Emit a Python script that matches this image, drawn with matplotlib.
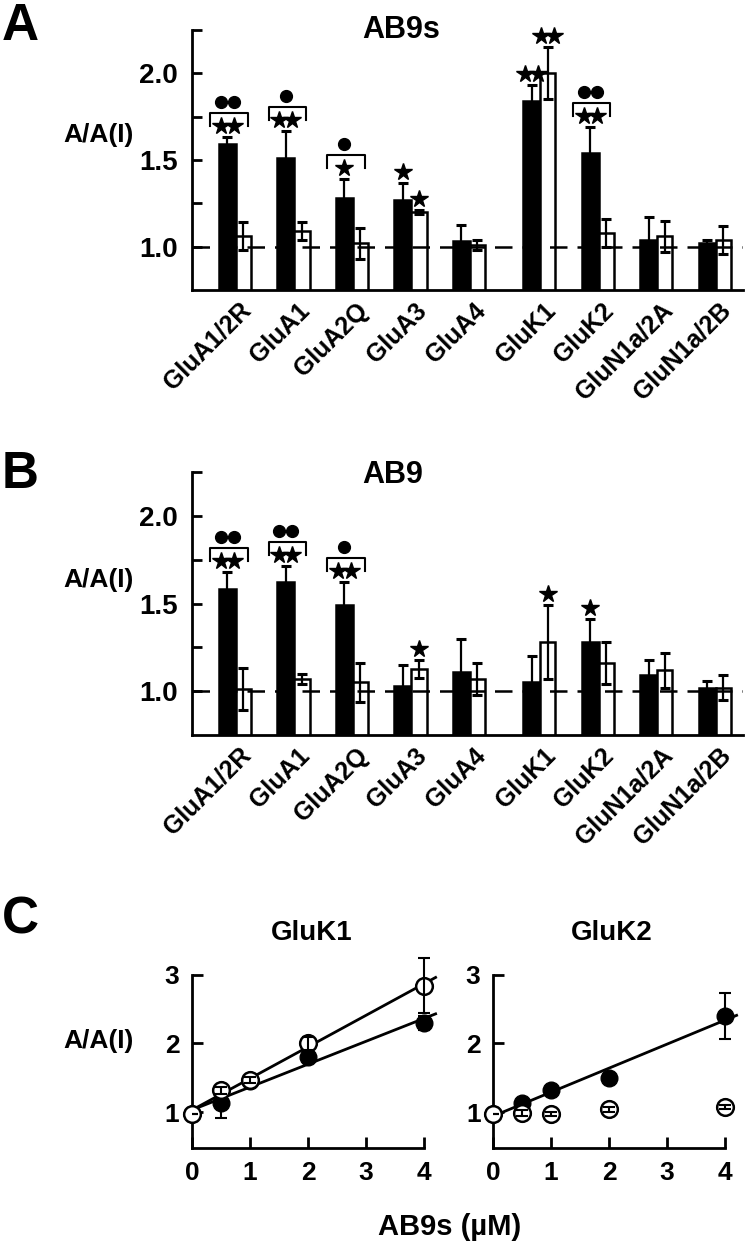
import matplotlib.pyplot as plt
import numpy as np

plt.rcParams['font.family'] = ['Liberation Sans', 'DejaVu Sans']
plt.rcParams['font.weight'] = 'bold'

receptors = ['GluA1/2R', 'GluA1', 'GluA2Q', 'GluA3', 'GluA4',
             'GluK1', 'GluK2', 'GluN1a/2A', 'GluN1a/2B']

# panel A, AB9s
ab9s_black = [1.59, 1.51, 1.28, 1.27, 1.035, 1.84, 1.54, 1.04, 1.02]
ab9s_black_err = [0.04, 0.16, 0.11, 0.10, 0.09, 0.09, 0.15, 0.13, 0.02]
ab9s_white = [1.06, 1.09, 1.02, 1.20, 1.01, 2.00, 1.08, 1.06, 1.04]
ab9s_white_err = [0.08, 0.05, 0.09, 0.01, 0.03, 0.15, 0.08, 0.09, 0.08]
# (group, bar, stars, dots)
ab9s_marks = [(0, 'b', 2, 2), (1, 'b', 2, 1), (2, 'b', 1, 1), (3, 'b', 1, 0),
              (3, 'w', 1, 0), (5, 'b', 2, 0), (5, 'w', 2, 0), (6, 'b', 2, 2)]

# panel B, AB9
ab9_black = [1.58, 1.625, 1.49, 1.03, 1.11, 1.05, 1.28, 1.09, 1.02]
ab9_black_err = [0.10, 0.09, 0.13, 0.12, 0.19, 0.15, 0.13, 0.09, 0.04]
ab9_white = [1.01, 1.07, 1.05, 1.125, 1.07, 1.28, 1.16, 1.12, 1.02]
ab9_white_err = [0.12, 0.03, 0.11, 0.05, 0.09, 0.21, 0.12, 0.10, 0.07]
ab9_marks = [(0, 'b', 2, 2), (1, 'b', 2, 2), (2, 'b', 2, 1),
             (3, 'w', 1, 0), (5, 'w', 1, 0), (6, 'b', 1, 0)]

# panel C, dose response
conc = [0, 0.5, 1, 2, 4]
gluk1_filled = [0.98, 1.13, 1.45, 1.80, 2.30]
gluk1_filled_err = [0, 0.22, 0.05, 0.05, 0.10]
gluk1_open = [0.97, 1.32, 1.47, 2.00, 2.84]
gluk1_open_err = [0, 0.05, 0.04, 0.10, 0.40]
gluk2_filled = [0.98, 1.13, 1.32, 1.50, 2.40]
gluk2_filled_err = [0, 0.05, 0.05, 0.05, 0.34]
gluk2_open = [0.97, 0.99, 0.98, 1.04, 1.07]
gluk2_open_err = [0, 0.04, 0.03, 0.04, 0.03]

positions = np.array([0, 1, 2, 3, 4, 5.2, 6.2, 7.2, 8.2])

W, H = 750, 1245
fig = plt.figure(figsize=(W / 100, H / 100), dpi=100)


def fx(px):
    return px / W


def fy(py):
    return 1 - py / H


def px_units(ax):
    bb = ax.get_window_extent()
    x0, x1 = ax.get_xlim()
    y0, y1 = ax.get_ylim()
    return (x1 - x0) / bb.width, (y1 - y0) / bb.height


def bar_panel(ax, black, black_err, white, white_err, marks):
    bw, ww = 0.29, 0.26
    bx = positions - bw / 2
    wx = positions + ww / 2
    ax.bar(positions, black, width=-bw, align='edge', color='black',
           edgecolor='black', linewidth=1.8, zorder=2)
    ax.bar(positions, white, width=ww, align='edge', color='white',
           edgecolor='black', linewidth=1.8, zorder=2)
    ax.errorbar(bx, black, yerr=black_err, fmt='none', ecolor='black',
                elinewidth=1.6, capsize=3.5, capthick=2.2, zorder=3)
    ax.errorbar(wx, white, yerr=white_err, fmt='none', ecolor='black',
                elinewidth=1.6, capsize=3.5, capthick=2.2, zorder=3)
    ax.axhline(1.0, color='black', lw=1.8, ls=(0, (7, 4)), zorder=4)

    ax.set_xlim(-0.75, 8.67)
    ax.set_ylim(0.75, 2.25)
    for s in ['top', 'right']:
        ax.spines[s].set_visible(False)
    for s in ['left', 'bottom']:
        ax.spines[s].set_linewidth(2)
    ax.set_yticks([1.0, 1.5, 2.0])
    ax.set_yticks([1.25, 1.75, 2.25], minor=True)
    ax.set_yticklabels(['1.0', '1.5', '2.0'])
    ax.tick_params(axis='y', which='both', direction='in', length=7,
                   width=2, labelsize=20, pad=10)
    ax.set_xticks(positions + 0.2)
    ax.set_xticklabels(receptors, rotation=45, ha='right', va='center',
                       rotation_mode='anchor', fontsize=18)
    ax.tick_params(axis='x', length=0, pad=12)

    ux, uy = px_units(ax)
    for grp, side, n_star, n_dot in marks:
        if side == 'b':
            xc = bx[grp]
            top = black[grp] + black_err[grp]
        else:
            xc = wx[grp]
            top = white[grp] + white_err[grp]
        xs = [xc] if n_star == 1 else [xc - 6.5 * ux, xc + 6.5 * ux]
        ax.plot(xs, [top + 11 * uy] * len(xs), ls='none', marker='*',
                ms=13, color='black', clip_on=False, zorder=5)
        if n_dot:
            x0 = positions[grp] - 0.44
            x1 = positions[grp] + 0.2
            ax.plot([x0, x0, x1, x1],
                    [top + 11 * uy, top + 24 * uy, top + 24 * uy, top + 11 * uy],
                    color='black', lw=1.5, zorder=5)
            xs = [xc] if n_dot == 1 else [xc - 6.5 * ux, xc + 6.5 * ux]
            ax.plot(xs, [top + 35 * uy] * len(xs), ls='none', marker='o',
                    ms=8.5, color='black', clip_on=False, zorder=5)


ax_a = fig.add_axes([fx(192), fy(290), fx(743) - fx(192), fy(30) - fy(290)])
bar_panel(ax_a, ab9s_black, ab9s_black_err, ab9s_white, ab9s_white_err, ab9s_marks)
ax_b = fig.add_axes([fx(192), fy(735), fx(743) - fx(192), fy(472) - fy(735)])
bar_panel(ax_b, ab9_black, ab9_black_err, ab9_white, ab9_white_err, ab9_marks)


def dose_panel(ax, filled, filled_err, opn, opn_err, fit_open):
    xx = np.array([0, 4.2])
    p = np.polyfit(conc, filled, 1)
    ax.plot(xx, np.polyval(p, xx), color='black', lw=2, zorder=2)
    if fit_open:
        p = np.polyfit(conc, opn, 1)
        ax.plot(xx, np.polyval(p, xx), color='black', lw=2, zorder=2)
    ax.plot(conc, filled, 'o', color='black', ms=12, zorder=3, clip_on=False)
    ax.errorbar(conc, filled, yerr=filled_err, fmt='none', ecolor='black',
                elinewidth=1.5, capsize=4, capthick=1.5, zorder=4)
    ax.plot(conc, opn, 'o', mfc='white', mec='black', mew=1.8, ms=12,
            zorder=5, clip_on=False)
    ax.errorbar(conc, opn, yerr=opn_err, fmt='none', ecolor='black',
                elinewidth=1.5, capsize=4, capthick=1.5, zorder=6)
    ax.set_xlim(0, 4.25)
    ax.set_ylim(0.48, 3.3)
    for s in ['top', 'right']:
        ax.spines[s].set_visible(False)
    for s in ['left', 'bottom']:
        ax.spines[s].set_linewidth(2)
    ax.spines['left'].set_bounds(0.48, 3)
    ax.spines['bottom'].set_bounds(0, 4)
    ax.set_yticks([1, 2, 3])
    ax.set_xticks([0, 1, 2, 3, 4])
    ax.tick_params(axis='both', direction='in', length=8, width=2,
                   labelsize=19, pad=9)


c_h = fy(954) - fy(1148)
ax_c1 = fig.add_axes([fx(192), fy(1148), 246.5 / W, c_h])
dose_panel(ax_c1, gluk1_filled, gluk1_filled_err, gluk1_open, gluk1_open_err, True)
ax_c2 = fig.add_axes([fx(493), fy(1148), 246.5 / W, c_h])
dose_panel(ax_c2, gluk2_filled, gluk2_filled_err, gluk2_open, gluk2_open_err, False)

# texts
for letter, py in [('A', 40), ('B', 488), ('C', 934)]:
    fig.text(fx(2), fy(py), letter, fontsize=37, ha='left', va='baseline')
fig.text(fx(401), fy(38), 'AB9s', fontsize=22, ha='center', va='baseline')
fig.text(fx(393), fy(483), 'AB9', fontsize=22, ha='center', va='baseline')
fig.text(fx(312), fy(940), 'GluK1', fontsize=20, ha='center', va='baseline')
fig.text(fx(612), fy(940), 'GluK2', fontsize=20, ha='center', va='baseline')
for py in [142, 587, 1048]:
    fig.text(fx(134), fy(py), 'A/A(I)', fontsize=19, ha='right', va='baseline')
fig.text(fx(450), fy(1235), 'AB9s (µM)', fontsize=21, ha='center', va='baseline')

fig.savefig('out.png', dpi=100)
